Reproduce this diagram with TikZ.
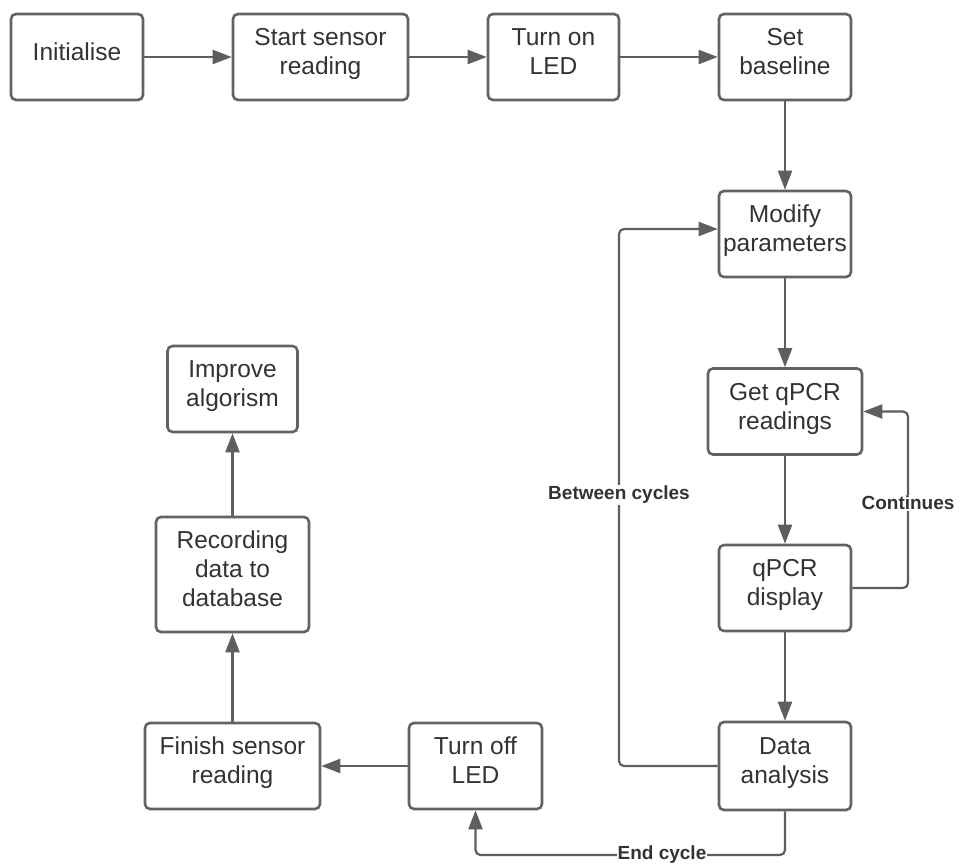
\documentclass[tikz,border=0pt]{standalone}
\usepackage{fontspec}
\setmainfont{Liberation Sans}
\usetikzlibrary{arrows.meta}
\definecolor{linegray}{HTML}{5E5E5E}
\definecolor{boxgray}{HTML}{636363}
\definecolor{txtgray}{HTML}{333333}
\newcommand{\topstr}{\rule{0pt}{20pt}}
\newcommand{\botstr}{\rule[-14pt]{0pt}{14pt}}
\begin{document}
\begin{tikzpicture}[x=1pt,y=-1pt,
  box/.style={draw=boxgray, line width=2.6pt, rounded corners=5pt, fill=white,
    minimum height=86pt, inner sep=0pt, align=center, text=txtgray,
    font=\fontsize{24.5}{29}\selectfont},
  conn/.style={draw=linegray, line width=2.2pt, rounded corners=5pt,
    -{Triangle[length=19pt,width=14pt]}},
  lbl/.style={fill=white, inner sep=1pt, text=txtgray,
    font=\bfseries\fontsize{19}{22}\selectfont}]
\useasboundingbox (0,0) rectangle (962,868);
\fill[white] (0,0) rectangle (962,868);

\node[box, minimum width=132pt] (init) at (77,57) {\topstr Initialise\botstr};
\node[box, minimum width=175pt] (start) at (320.5,57) {\topstr Start sensor\\reading\botstr};
\node[box, minimum width=131pt] (ledon) at (553.5,57) {\topstr Turn on\\LED\botstr};
\node[box, minimum width=132pt] (base) at (785,57) {\topstr Set\\baseline\botstr};
\node[box, minimum width=132pt] (mod) at (785,234) {\topstr Modify\\parameters\botstr};
\node[box, minimum width=154pt] (get) at (785,411.5) {\topstr Get qPCR\\readings\botstr};
\node[box, minimum width=132pt] (disp) at (785,588) {\topstr qPCR\\display\botstr};
\node[box, minimum width=132pt, minimum height=88pt] (data) at (785,766) {\topstr Data\\analysis\botstr};
\node[box, minimum width=133pt] (ledoff) at (475.5,766) {\topstr Turn off\\LED\botstr};
\node[box, minimum width=175pt] (finish) at (232.5,766) {\topstr Finish sensor\\reading\botstr};
\node[box, minimum width=153pt, minimum height=115pt] (rec) at (232.5,574.5) {\topstr Recording\\data to\\database\botstr};
\node[box, minimum width=130pt] (imp) at (232.5,389) {\topstr Improve\\algorism\botstr};

\coordinate (c1) at (908,588);
\coordinate (c2) at (908,411.5);
\coordinate (b1) at (619,766);
\coordinate (b2) at (619,229);
\coordinate (e1) at (785,855);
\coordinate (e2) at (475.5,855);

\draw[conn] (init.east) -- (start.west);
\draw[conn] (start.east) -- (ledon.west);
\draw[conn] (ledon.east) -- (base.west);
\draw[conn] (base.south) -- (mod.north);
\draw[conn] (mod.south) -- (get.north);
\draw[conn] (get.south) -- (disp.north);
\draw[conn] (disp.south) -- (data.north);
\draw[conn] (disp.east) -- (c1) -- (c2) -- (get.east);
\draw[conn] (data.west) -- (b1) -- (b2) -- (mod.west |- b2);
\draw[conn] (data.south) -- (e1) -- (e2) -- (ledoff.south);
\draw[conn] (ledoff.west) -- (finish.east);
\draw[conn] (finish.north) -- (rec.south);
\draw[conn] (rec.north) -- (imp.south);

\node[lbl] (lcont) at (908,503) {Continues};
\node[lbl] (lbetw) at (619,495) {Between cycles};
\node[lbl] (lend) at (662,855) {End cycle};
\end{tikzpicture}
\end{document}
